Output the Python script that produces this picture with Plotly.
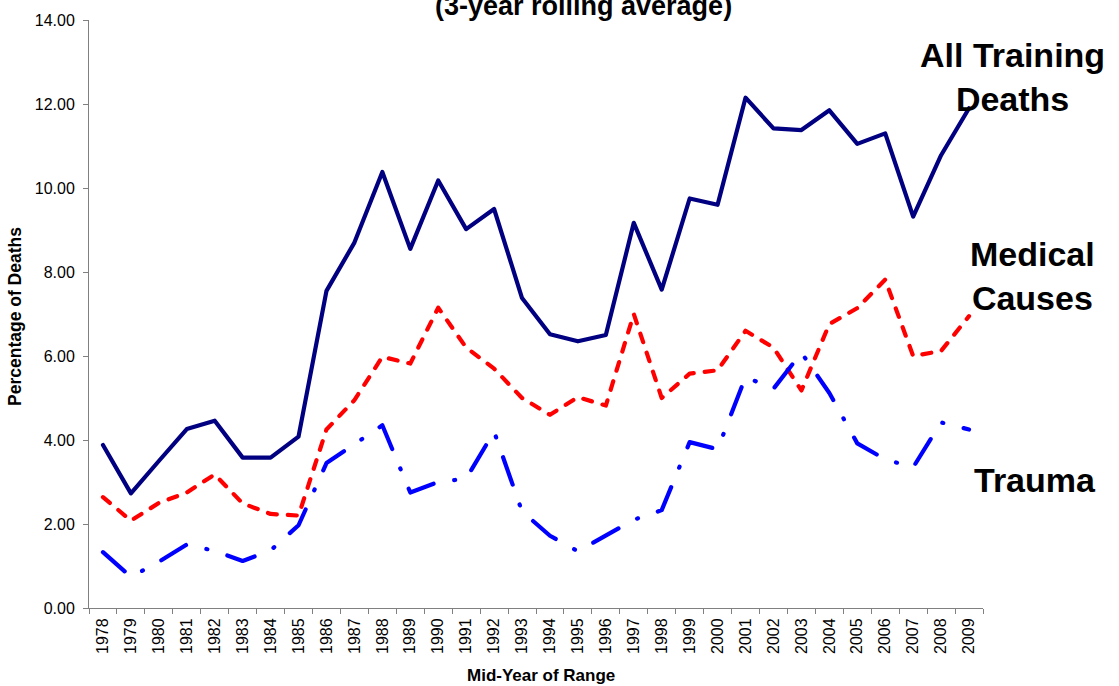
import plotly.graph_objects as go

years = [str(y) for y in range(1978, 2010)]

all_training = [3.88, 2.73, 3.50, 4.26, 4.46, 3.58, 3.58, 4.08, 7.55, 8.70,
                10.38, 8.55, 10.18, 9.02, 9.50, 7.38, 6.52, 6.35, 6.50, 9.17,
                7.58, 9.75, 9.60, 12.15, 11.42, 11.38, 11.85, 11.05, 11.30, 9.32,
                10.78, 11.90]

medical = [2.64, 2.08, 2.50, 2.75, 3.18, 2.49, 2.24, 2.20, 4.25, 4.95,
           5.98, 5.82, 7.15, 6.20, 5.70, 5.00, 4.60, 5.02, 4.82, 7.00,
           5.00, 5.58, 5.66, 6.60, 6.20, 5.18, 6.76, 7.14, 7.82, 6.00,
           6.12, 6.95]

trauma = [1.33, 0.74, 1.10, 1.51, 1.36, 1.12, 1.37, 1.97, 3.45, 3.90,
          4.35, 2.75, 3.00, 3.08, 4.20, 2.30, 1.72, 1.35, 1.72, 2.10,
          2.33, 3.95, 3.78, 5.50, 5.22, 6.08, 5.12, 3.92, 3.54, 3.35,
          4.42, 4.25]

y_ticks = [0, 2, 4, 6, 8, 10, 12, 14]

FONT = "Liberation Sans, Arial, sans-serif"
GRAY = "#808080"

fig = go.Figure()
fig.add_trace(go.Scatter(x=years, y=all_training, mode="lines", name="All Training Deaths",
                         line=dict(color="#000080", width=4.2)))
fig.add_trace(go.Scatter(x=years, y=medical, mode="lines", name="Medical Causes",
                         line=dict(color="#FF0000", width=4.2, dash="9px,11px")))
fig.add_trace(go.Scatter(x=years, y=trauma, mode="lines", name="Trauma",
                         line=dict(color="#0000FF", width=4.2, dash="29px,21px,1px,21px")))

fig.update_layout(
    width=1119, height=686,
    margin=dict(l=89, r=136, t=18, b=78, pad=0),
    paper_bgcolor="white", plot_bgcolor="white",
    showlegend=False,
    font=dict(family=FONT, color="black"),
    xaxis=dict(type="category", range=[-0.5, 31.5], showgrid=False, zeroline=False,
               showline=True, linecolor=GRAY, linewidth=1,
               ticks="outside", ticklen=5, tickcolor=GRAY, tickson="boundaries",
               tickangle=-90, tickfont=dict(size=16, family=FONT, color="black"),
               ticklabelstandoff=3),
    yaxis=dict(range=[0, 14], tickvals=y_ticks, tickformat=".2f", showgrid=False,
               zeroline=False, showline=True, linecolor=GRAY, linewidth=1,
               ticks="outside", ticklen=5, tickcolor=GRAY,
               tickfont=dict(size=16, family=FONT, color="black"),
               ticklabelstandoff=5),
)

ann_font = dict(family=FONT, size=34, color="black", weight="bold")
annotations = [
    dict(text="(3-year rolling average)", x=(583 - 89) / 894, y=(608 - 3.5) / 590,
         xref="paper", yref="paper",
         xanchor="center", yanchor="middle", showarrow=False,
         font=dict(family=FONT, size=27, color="black", weight="bold")),
    dict(text="All Training<br>Deaths", x=(1012 - 89) / 894, y=(608 - 75.5) / 590,
         xref="paper", yref="paper", xanchor="center", yanchor="middle",
         align="center", showarrow=False, font=ann_font),
    dict(text="Medical<br>Causes", x=(1032 - 89) / 894, y=(608 - 275) / 590,
         xref="paper", yref="paper", xanchor="center", yanchor="middle",
         align="center", showarrow=False, font=ann_font),
    dict(text="Trauma", x=(1035 - 89) / 894, y=(608 - 480) / 590,
         xref="paper", yref="paper", xanchor="center", yanchor="middle",
         showarrow=False, font=ann_font),
    dict(text="Mid-Year of Range", x=(540.5 - 89) / 894, y=(608 - 675.7) / 590,
         xref="paper", yref="paper", xanchor="center", yanchor="middle",
         showarrow=False, font=dict(family=FONT, size=17, color="black", weight="bold")),
    dict(text="Percentage of Deaths", x=(15 - 89) / 894, y=(608 - 316) / 590,
         xref="paper", yref="paper", xanchor="center", yanchor="middle",
         textangle=-90, showarrow=False,
         font=dict(family=FONT, size=17.5, color="black", weight="bold")),
]
fig.update_layout(annotations=annotations)

post = ("document.documentElement.style.margin='0';document.body.style.margin='0';"
        "document.body.style.padding='0';"
        "document.querySelectorAll('.js-line').forEach(function(p){"
        "p.style.strokeLinecap='round';p.style.strokeLinejoin='round';});")
fig.write_html("out.html", post_script=post, config={"displayModeBar": False})
